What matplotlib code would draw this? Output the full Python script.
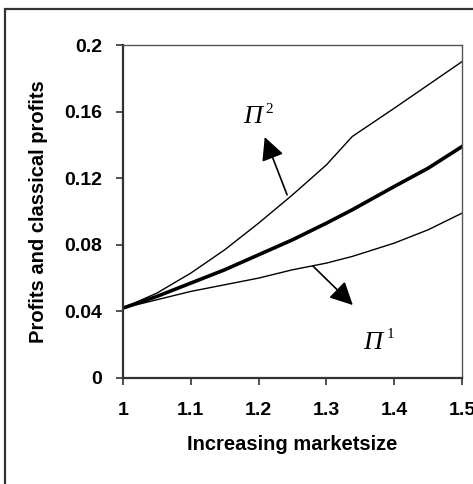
import matplotlib.pyplot as plt
from matplotlib.patches import Rectangle

# ── Data ──────────────────────────────────────────────────────────────────────

market_size = [1.0, 1.05, 1.1, 1.15, 1.2, 1.25, 1.3, 1.338, 1.4, 1.45, 1.5]
profit_2 = [0.042, 0.051, 0.063, 0.077, 0.093, 0.110, 0.128, 0.145, 0.162, 0.176, 0.190]
classical = [0.042, 0.049, 0.057, 0.065, 0.074, 0.083, 0.093, 0.101, 0.115, 0.126, 0.139]
profit_1 = [0.042, 0.047, 0.052, 0.056, 0.060, 0.065, 0.069, 0.073, 0.081, 0.089, 0.099]

x_ticks = [1, 1.1, 1.2, 1.3, 1.4, 1.5]
x_tick_labels = ["1", "1.1", "1.2", "1.3", "1.4", "1.5"]
y_ticks = [0, 0.04, 0.08, 0.12, 0.16, 0.2]
y_tick_labels = ["0", "0.04", "0.08", "0.12", "0.16", "0.2"]

# ── Figure ────────────────────────────────────────────────────────────────────

fig = plt.figure(figsize=(4.73, 4.84), dpi=100)
fig.patches.append(Rectangle((5 / 473, -0.1), 1.2, 1.1 - 9 / 484,
                             transform=fig.transFigure, fill=False,
                             edgecolor="#333333", linewidth=1.6))

ax = fig.add_axes([123 / 473, 1 - 378 / 484, 339 / 473, 333 / 484])

ax.plot(market_size, profit_2, color="black", linewidth=1.0)
ax.plot(market_size, classical, color="black", linewidth=2.6)
ax.plot(market_size, profit_1, color="black", linewidth=1.0)

ax.set_xlim(1, 1.5)
ax.set_ylim(0, 0.2)

tick_font = dict(family="Liberation Sans", weight="bold", size=14)
ax.set_xticks(x_ticks)
ax.set_xticklabels(x_tick_labels, **tick_font)
ax.set_yticks(y_ticks)
ax.set_yticklabels(y_tick_labels, **tick_font)
ax.tick_params(direction="out", length=5, width=1.2, color="#333333")
ax.tick_params(axis="x", pad=12)
ax.tick_params(axis="y", pad=10)

for side in ["left", "bottom"]:
    ax.spines[side].set_color("#333333")
    ax.spines[side].set_linewidth(1.6)
for side in ["top", "right"]:
    ax.spines[side].set_color("#555555")
    ax.spines[side].set_linewidth(1.0)

ax.set_xlabel("Increasing marketsize", fontfamily="Liberation Sans",
              fontweight="bold", fontsize=14.5, labelpad=12)
ax.set_ylabel("Profits and classical profits", fontfamily="Liberation Sans",
              fontweight="bold", fontsize=14.5, labelpad=12)

# ── Arrows and Π labels ───────────────────────────────────────────────────────

arrow = dict(arrowstyle="-|>,head_length=0.7,head_width=0.35",
             color="black", linewidth=1.2, mutation_scale=20, shrinkA=0, shrinkB=0)
ax.annotate("", xy=(1.209, 0.1447), xytext=(1.242, 0.110), arrowprops=arrow)
ax.annotate("", xy=(1.339, 0.0438), xytext=(1.280, 0.0673), arrowprops=arrow)

pi_font = dict(family="Liberation Serif", style="italic", size=19)
sup_font = dict(family="Liberation Serif", size=11)

ax.text(1.177, 0.1532, "Π", ha="left", va="baseline", **pi_font)
ax.annotate("2", xy=(1.177, 0.1532), xytext=(16, 7), textcoords="offset points",
            ha="left", va="baseline", **sup_font)
ax.text(1.354, 0.0174, "Π", ha="left", va="baseline", **pi_font)
ax.annotate("1", xy=(1.354, 0.0174), xytext=(17, 8), textcoords="offset points",
            ha="left", va="baseline", **sup_font)

fig.savefig("out.png", dpi=100)
